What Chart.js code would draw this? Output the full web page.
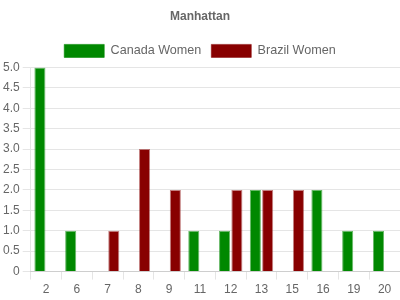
<!DOCTYPE html>
<html>
<head>
<meta charset="utf-8">
<script src="https://cdn.jsdelivr.net/npm/chart.js@4"></script>
<style>
  html, body { margin: 0; padding: 0; background: #fff; }
  #wrap { width: 400px; height: 300px; }
</style>
</head>
<body>
<div id="wrap"><canvas id="grafico"></canvas></div>
<script>
const categorias = ['2', '6', '7', '8', '9', '11', '12', '13', '15', '16', '19', '20'];
const canadaWomen = [5, 1, 0, 0, 0, 1, 1, 2, 0, 2, 1, 1];
const brazilWomen = [0, 0, 1, 3, 2, 0, 2, 2, 2, 0, 0, 0];

Chart.defaults.font.family = 'Arial, "Liberation Sans", sans-serif';
Chart.defaults.color = '#666';

const ctx = document.getElementById('grafico');

new Chart(ctx, {
    type: 'bar',
    data: {
        labels: categorias,
        datasets: [{
            label: 'Canada Women',
            data: canadaWomen,
            backgroundColor: '#008800',
            borderColor: 'rgba(0,136,0,0.6)',
            borderWidth: 1
        }, {
            label: 'Brazil Women',
            data: brazilWomen,
            backgroundColor: '#880000',
            borderColor: 'rgba(136,0,0,0.5)',
            borderWidth: 1
        }]
    },
    options: {
        responsive: true,
        maintainAspectRatio: false,
        animation: false,
        layout: { padding: 0 },
        plugins: {
            title: {
                display: true,
                text: 'Manhattan',
                font: { size: 12, weight: 'bold' },
                padding: { top: 9, bottom: 11 }
            },
            legend: {
                position: 'top',
                labels: {
                    boxWidth: 40,
                    boxHeight: 13,
                    padding: 10,
                    font: { size: 12.6 }
                }
            }
        },
        scales: {
            y: {
                beginAtZero: true,
                min: 0,
                max: 5,
                ticks: {
                    stepSize: 0.5,
                    font: { size: 12 },
                    callback: v => v === 0 ? '0' : v.toFixed(1)
                },
                grid: { color: 'rgba(0,0,0,0.1)' }
            },
            x: {
                ticks: { font: { size: 12 } },
                grid: { drawOnChartArea: false, color: 'rgba(0,0,0,0.1)' }
            }
        }
    }
});
</script>
</body>
</html>
